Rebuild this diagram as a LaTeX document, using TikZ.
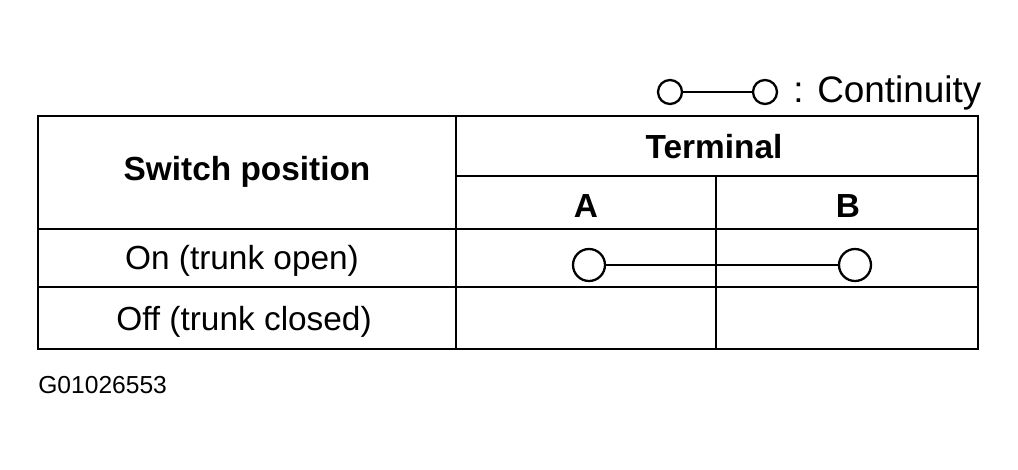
\documentclass[tikz,border=0pt]{standalone}
\usepackage{fontspec}
\setmainfont{Liberation Sans}
\begin{document}
\begin{tikzpicture}[x=0.02cm,y=-0.02cm,
  ln/.style={line width=1.3pt},
  dot/.style={circle,draw,line width=1.3pt,inner sep=0pt,fill=white},
  txt/.style={font=\fontsize{19}{22}\selectfont,inner sep=0pt},
  hd/.style={font=\fontsize{19}{22}\selectfont\bfseries,inner sep=0pt}]
\useasboundingbox (0,0) rectangle (1018,470);
% legend
\node[dot,minimum size=0.48cm] (l1) at (670,92) {};
\node[dot,minimum size=0.48cm] (l2) at (765,92) {};
\draw[ln] (l1) -- (l2);
\node[txt,anchor=west,font=\fontsize{21}{24}\selectfont] (lt) at (793,93) {: Continuity};
% table
\draw[ln] (38,116) rectangle (978,349);
\draw[ln] (456,116) -- (456,349);
\draw[ln] (716,176) -- (716,349);
\draw[ln] (456,176) -- (978,176);
\draw[ln] (38,229) -- (978,229);
\draw[ln] (38,287) -- (978,287);
\node[hd] (sp) at (247,172) {Switch position};
\node[hd] (tm) at (714,147) {Terminal};
\node[hd] (ta) at (586,206) {A};
\node[hd] (tb) at (848,206) {B};
\node[txt] (on) at (242,261) {On (trunk open)};
\node[txt] (off) at (244,322) {Off (trunk closed)};
\node[dot,minimum size=0.64cm] (c1) at (589,265) {};
\node[dot,minimum size=0.64cm] (c2) at (855,265) {};
\draw[ln] (c1) -- (c2);
\node[txt,anchor=west,font=\fontsize{14}{16}\selectfont] (id) at (38,385) {G01026553};
\end{tikzpicture}
\end{document}
